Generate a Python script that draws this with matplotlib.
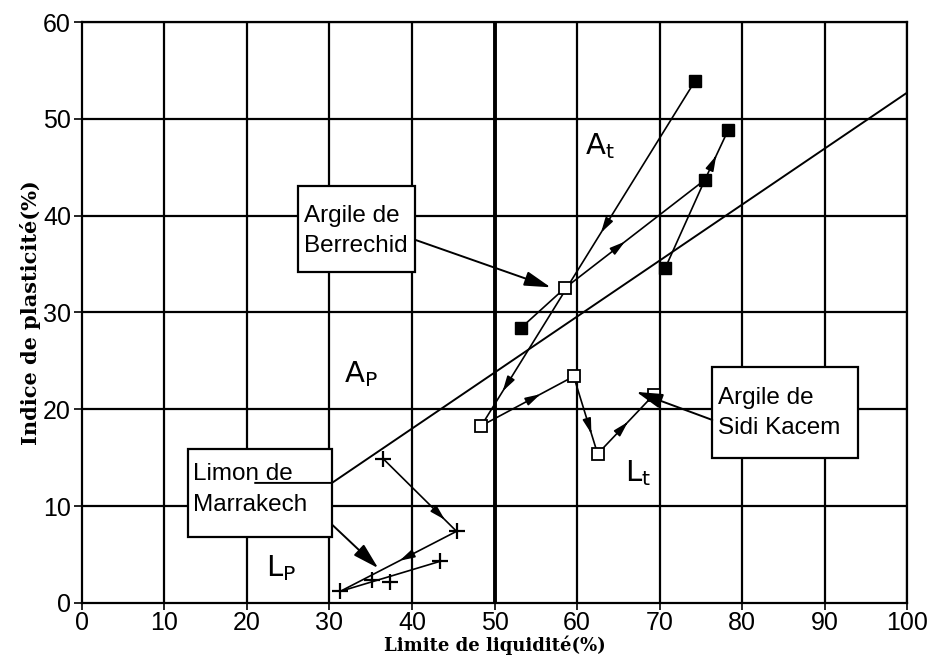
import matplotlib
matplotlib.use("Agg")
import matplotlib.pyplot as plt
from matplotlib.patches import Rectangle
import numpy as np

# points (LL %, PI %)
filled_x = [74.3, 78.3, 75.5, 70.7, 53.2]
filled_y = [53.9, 48.8, 43.7, 34.6, 28.4]
open_x = [58.5, 48.4, 59.6, 62.5, 69.3]
open_y = [32.5, 18.3, 23.4, 15.4, 21.5]
cross_x = [36.5, 45.4, 43.4, 31.3, 35.1, 37.3]
cross_y = [14.9, 7.4, 4.3, 1.2, 2.4, 2.2]

# A-line (with the small step coming out of the Limon box)
aline_x = [21.0, 30.3, 100.0]
aline_y = [12.4, 12.4, 52.7]

F = np.column_stack([filled_x, filled_y])
O = np.column_stack([open_x, open_y])
C = np.column_stack([cross_x, cross_y])

# paths: start point, end point, where arrowheads sit along the segment
paths = [
    (F[0], O[1], (0.40, 0.86)),
    (O[0], F[2], (0.39,)),
    (F[2], F[1], (0.45,)),
    (F[3], F[2], ()),
    (F[4], O[0], ()),
    (O[1], O[2], (0.60,)),
    (O[2], O[3], (0.70,)),
    (O[3], O[4], (0.50,)),
    (C[0], C[1], (0.80,)),
    (C[1], C[3], (0.45,)),
    (C[3], C[2], ()),
]

xticks = list(range(0, 101, 10))
yticks = list(range(0, 61, 10))

fig = plt.figure(figsize=(9.37, 6.67), dpi=100)
ax = fig.add_axes([0.0875, 0.096, 0.8805, 0.871])
ax.set_xlim(0, 100)
ax.set_ylim(0, 60)

for x in xticks[1:]:
    ax.axvline(x, color='k', lw=2.8 if x == 50 else 1.6, zorder=1)
for y in yticks[1:]:
    ax.axhline(y, color='k', lw=1.6, zorder=1)
for s in ax.spines.values():
    s.set_linewidth(1.6)

ax.set_xticks(xticks)
ax.set_yticks(yticks)
ax.tick_params(axis='x', direction='inout', length=10, width=1.2, labelsize=18, pad=1)
ax.tick_params(axis='y', direction='out', length=6, width=1.2, labelsize=18, pad=2)
for lab in ax.get_xticklabels() + ax.get_yticklabels():
    lab.set_family('Liberation Sans')

ax.plot(aline_x, aline_y, color='k', lw=1.4, zorder=8)

for p, q, fr in paths:
    ax.plot([p[0], q[0]], [p[1], q[1]], color='k', lw=1.2, zorder=3)
    for f in fr:
        a = p + f * (q - p)
        b = p + (f + 0.04) * (q - p)
        ax.annotate('', xy=b, xytext=a,
                    arrowprops=dict(arrowstyle='-|>,head_length=0.9,head_width=0.25',
                                    color='k', lw=1.2, shrinkA=0, shrinkB=0), zorder=4)

ax.plot(filled_x, filled_y, 's', color='k', ms=9, zorder=5)
ax.plot(open_x, open_y, 's', mfc='white', mec='k', mew=1.3, ms=9, zorder=5)
ax.plot(cross_x, cross_y, '+', color='k', ms=11, mew=1.6, zorder=5)

# label boxes: corner, width, height, text centre, text
boxes = [
    ((26.2, 34.2), 14.2, 8.9, 38.4, "Argile de\nBerrechid"),
    ((76.4, 15.0), 17.7, 9.4, 19.6, "Argile de\nSidi Kacem"),
    ((12.8, 6.8), 17.5, 9.1, 11.7, "Limon de\nMarrakech"),
]
for (x0, y0), w, h, yc, txt in boxes:
    ax.add_patch(Rectangle((x0, y0), w, h, facecolor='white', edgecolor='k', lw=1.6, zorder=6))
    ax.text(x0 + 0.7, yc, txt, ha='left', va='center', fontsize=17.5,
            family='Liberation Sans', linespacing=1.5, zorder=7)

# big pointer arrows from the boxes
big = dict(arrowstyle='-|>,head_length=1.6,head_width=0.45', color='k', lw=1.4, shrinkA=0, shrinkB=0)
ax.annotate('', xy=(56.8, 32.6), xytext=(40.4, 37.5), arrowprops=big, zorder=6)
ax.annotate('', xy=(67.2, 21.8), xytext=(76.4, 18.9), arrowprops=big, zorder=6)
ax.annotate('', xy=(35.9, 3.6), xytext=(30.3, 8.1), arrowprops=big, zorder=6)

hand = dict(fontsize=21, family='DejaVu Sans', zorder=7)
ax.text(61.0, 46.3, r'A$_\mathregular{t}$', **hand)
ax.text(31.8, 22.8, r'A$_\mathregular{P}$', **hand)
ax.text(65.8, 12.6, r'L$_\mathregular{t}$', **hand)
ax.text(22.3, 2.8, r'L$_\mathregular{P}$', **hand)

ax.set_ylabel('Indice de plasticité(%)', family='DejaVu Serif', fontsize=15,
              fontweight='bold', labelpad=1)
ax.set_xlabel('Limite de liquidité(%)', family='DejaVu Serif', fontsize=13,
              fontweight='bold', labelpad=0)

fig.savefig('out.png', dpi=100)
